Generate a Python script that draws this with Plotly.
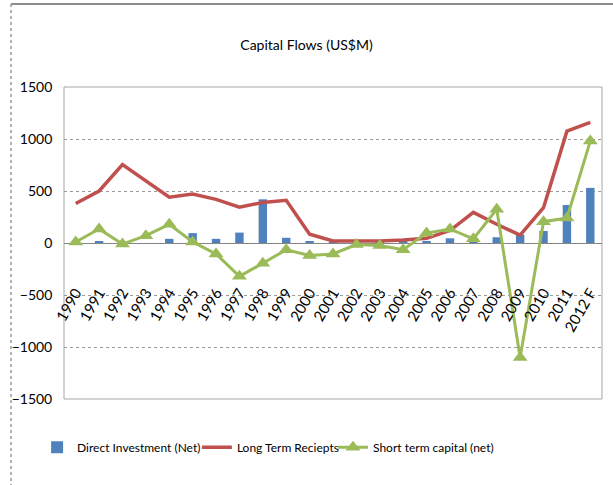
import plotly.graph_objects as go

years = ['1990', '1991', '1992', '1993', '1994', '1995', '1996', '1997', '1998', '1999',
         '2000', '2001', '2002', '2003', '2004', '2005', '2006', '2007', '2008', '2009',
         '2010', '2011', '2012 F']
direct_inv = [5, 15, 0, 0, 40, 95, 40, 100, 420, 50,
              15, 5, 5, 5, 10, 20, 45, 30, 55, 80,
              115, 365, 530]
long_term = [380, 500, 755, 600, 440, 470, 420, 345, 390, 410,
             85, 20, 20, 20, 30, 45, 120, 295, 180, 75,
             340, 1075, 1160]
short_term = [10, 135, -10, 70, 180, 10, -105, -320, -195, -65,
              -120, -105, -15, -25, -65, 95, 135, 40, 325, -1100,
              205, 240, 980]

font = "Lato, Open Sans, sans-serif"

fig = go.Figure()
fig.add_trace(go.Bar(x=years, y=direct_inv, name='Direct Investment (Net)', legend='legend',
                     marker=dict(color='#4F81BD', line=dict(width=0)), width=0.36))
fig.add_trace(go.Scatter(x=years, y=long_term, name='Long Term Reciepts', mode='lines', legend='legend2',
                         line=dict(color='#C0504D', width=3.5)))
fig.add_trace(go.Scatter(x=years, y=short_term, name='Short term capital (net)', mode='lines+markers',
                         legend='legend3', line=dict(color='#9BBB59', width=3),
                         marker=dict(symbol='triangle-up', size=13, color='#9BBB59')))

# plot area border
fig.add_shape(type='rect', xref='paper', yref='paper', x0=0, y0=0, x1=1, y1=1,
              line=dict(color='#A6A6A6', width=1), layer='below')
# outer frame (top solid, left dotted)
fig.add_shape(type='line', xref='paper', yref='paper', x0=-0.0985, y0=1.266, x1=1.1, y1=1.266,
              line=dict(color='#8C8C8C', width=2))
fig.add_shape(type='line', xref='paper', yref='paper', x0=-0.0985, y0=1.266, x1=-0.0985, y1=-0.4,
              line=dict(color='#9A9A9A', width=1.5, dash='dot'))

leg = dict(orientation='h', xanchor='left', y=-0.155, yanchor='middle', bgcolor='rgba(0,0,0,0)',
           font=dict(size=12), itemwidth=30)

fig.update_layout(
    width=613, height=485,
    margin=dict(l=64, r=11, t=87, b=86),
    paper_bgcolor='white', plot_bgcolor='white',
    font=dict(family=font, color='black', size=13),
    title=dict(text='Capital Flows (US$M)', x=0.5, xanchor='center', y=0.907, yanchor='middle',
               yref='container', font=dict(size=14, family=font, color='black')),
    barmode='overlay',
    showlegend=True,
    legend=dict(leg, x=-0.05),
    legend2=dict(leg, x=0.247),
    legend3=dict(leg, x=0.5),
    # year labels sit a little below the zero line
    xaxis=dict(anchor='free', position=0.381, range=[-0.5, len(years) - 0.5],
               showline=False, showgrid=False, zeroline=False,
               ticks='', tickangle=-60, tickfont=dict(size=15)),
    yaxis=dict(range=[-1500, 1500], dtick=500, showgrid=True, gridcolor='#9A9A9A', griddash='dot',
               gridwidth=1, zeroline=True, zerolinecolor='#868686', zerolinewidth=1,
               showline=False, tickfont=dict(size=14), ticks='',
               ticksuffix='\u00a0\u00a0\u00a0'),
)

fig.write_html("out.html", config={'displayModeBar': False},
               post_script="document.body.style.margin='0';")
